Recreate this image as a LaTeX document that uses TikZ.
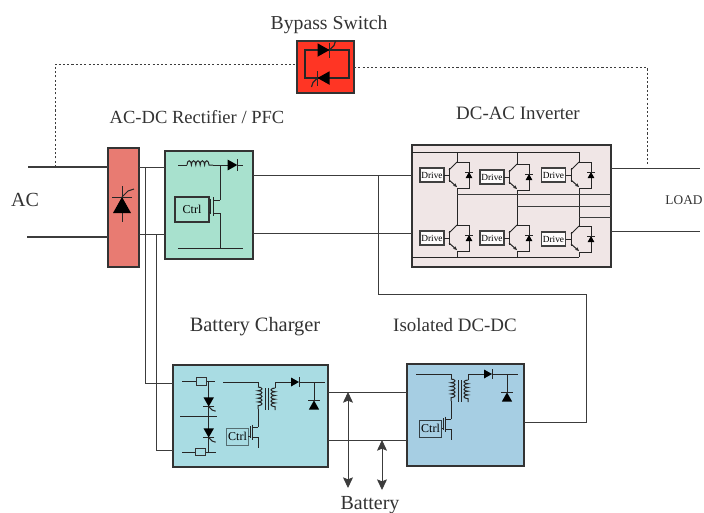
\documentclass[tikz,border=0pt]{standalone}
\usepackage{fontspec}
\setmainfont{Liberation Serif}
\usetikzlibrary{arrows.meta, decorations.pathmorphing}
\definecolor{bypassred}{HTML}{FF3524}
\definecolor{rectred}{HTML}{E87B72}
\definecolor{pfcgreen}{HTML}{A8E1CE}
\definecolor{invpink}{HTML}{F0E6E6}
\definecolor{chgblue}{HTML}{A9DCE3}
\definecolor{isoblue}{HTML}{A6CEE3}
\definecolor{wirecol}{HTML}{3C3C3C}
\tikzset{
  dio/.pic={
    \fill (-4,-4.5) -- (4,0) -- (-4,4.5) -- cycle;
    \draw (4,-5) -- (4,5);
  },
  scr/.pic={
    \fill (-4,-4.5) -- (4,0) -- (-4,4.5) -- cycle;
    \draw (4,-5) -- (4,5);
    \draw (4,0) -- (7,-3) -- (8,-6);
  },
  igbt/.pic={
    \coordinate (-c) at (0,-13);
    \coordinate (-e) at (0,13);
    \coordinate (-g) at (-8,0);
    \draw (-8,-7) -- (-8,7);
    \draw (-c) -- (-8,-5);
    \draw[-{Stealth[length=3pt,width=2.5pt]}] (-8,5) -- (0,12);
    \draw (-c) -- (12,-13) -- (12,13) -- (-e);
    \pic[rotate=90,scale=0.75] at (12,0) {dio};
  },
  mosfet/.pic={
    \coordinate (-g) at (-10,12);
    \draw (0,0) -- (-7,0);
    \draw (-7,-3) -- (-7,16);
    \draw (-10,-1) -- (-10,14);
    \draw (-7,13) -- (0,13);
  },
  flyback/.pic={
    \draw (-35,0) -- (0,0) -- (0,5);
    \draw[coilr] (0,5) -- (0,27);
    \draw (0,27) -- (0,45);
    \pic[scale=0.8] (-m) at (0,45) {mosfet};
    \draw (0,55.4) -- (0,66);
    \draw (7.5,6) -- (7.5,28) (10,6) -- (10,28);
    \draw (17,6) -- (17,0) -- (33,0);
    \draw[coill] (17,6) -- (17,28);
    \pic at (37,0) {dio};
    \draw (41,0) -- (67,0);
    \draw (56,0) -- (56,18);
    \pic[rotate=90,scale=1.15] at (56,23) {dio};
  },
  coilr/.style={decorate, decoration={bumps, segment length=5.6pt, amplitude=3pt}},
  coill/.style={decorate, decoration={bumps, segment length=5.6pt, amplitude=3pt, mirror}}
}

\begin{document}
\begin{tikzpicture}[
      x=0.75pt, y=-0.75pt, >=Stealth,
      wire/.style={draw=wirecol, line width=0.65pt},
      sym/.style={line width=0.75pt, draw=black!85},
      blockbox/.style={draw=black!80, line width=1.2pt, inner sep=0pt, outer sep=0pt},
      title/.style={text=black!80, inner sep=0pt, font=\fontsize{14.2}{16}\selectfont},
      drivebox/.style={draw=black!75, line width=0.9pt, fill=white!90!invpink, inner sep=0pt, outer sep=0pt,
        minimum width=18pt, minimum height=10.5pt, font=\fontsize{7}{8}\selectfont},
      ctrlbox/.style={inner sep=0pt, outer sep=0pt, font=\fontsize{9}{10}\selectfont},
      fusebox/.style={draw=black!80, line width=0.6pt, fill=chgblue, inner sep=0pt, minimum width=8pt, minimum height=5.5pt},
      batarrow/.style={wire, {Stealth[length=8pt,width=7.5pt,inset=1.5pt]}-{Stealth[length=8pt,width=7.5pt,inset=1.5pt]}}
    ]
      \useasboundingbox (0,0) rectangle (704,512);

      % free ends
      \coordinate (acT) at (28,167);
      \coordinate (acB) at (27,237);
      \coordinate (loadT) at (700,168);
      \coordinate (loadB) at (700,231);
      \coordinate (dotL) at (55,167);
      \coordinate (dotR) at (647,166);
      \coordinate (tapA) at (145,167);
      \coordinate (tapB) at (156,234);
      \coordinate (dcT) at (378,175);
      \coordinate (dcB) at (378,233);
      \coordinate (batT) at (348,392);
      \coordinate (batB) at (382,440);
      \coordinate (batTe) at (348,488);
      \coordinate (batBe) at (382,490);
      \coordinate (railT) at (579,152);
      \coordinate (railB) at (579,257);

      % blocks
      \node[blockbox, fill=bypassred, minimum width=42.75pt, minimum height=39pt] (byp) at (325.5,67) {};
      \node[blockbox, fill=rectred, minimum width=23.25pt, minimum height=89.25pt] (rec) at (123.5,207.5) {};
      \node[blockbox, fill=pfcgreen, minimum width=66pt, minimum height=81pt] (pfc) at (209,205) {};
      \node[blockbox, fill=invpink, minimum width=149.25pt, minimum height=91.5pt] (inv) at (511.5,206) {};
      \node[blockbox, fill=chgblue, minimum width=116.25pt, minimum height=76.5pt] (chg) at (250.5,416) {};
      \node[blockbox, fill=isoblue, minimum width=87.75pt, minimum height=76.5pt] (iso) at (465.5,415) {};

      % labels
      \node[title, font=\fontsize{14.8}{16}\selectfont] (lbyp) at (329,25) {Bypass Switch};
      \node[title, font=\fontsize{13.9}{16}\selectfont] (lrec) at (197,117) {AC-DC Rectifier / PFC};
      \node[title] (linv) at (518,113) {DC-AC Inverter};
      \node[title, font=\fontsize{15}{18}\selectfont] (lac) at (25,200) {AC};
      \node[title, font=\fontsize{10}{12}\selectfont] (lload) at (684,200) {LOAD};
      \node[title, font=\fontsize{15.3}{18}\selectfont] (lchg) at (255,327) {Battery Charger};
      \node[title] (liso) at (455,325) {Isolated DC-DC};
      \node[title, font=\fontsize{15}{18}\selectfont] (lbat) at (370,505) {Battery};

      % input side
      \draw[wire, line width=0.9pt] (acT) -- (acT -| rec.west);
      \draw[wire, line width=0.9pt] (acB) -- (acB -| rec.west);
      \draw[wire] (acT -| rec.east) -- (acT -| pfc.west);
      \draw[wire] (tapB -| rec.east) -- (tapB -| pfc.west);
      \draw[wire] (tapA) |- (chg.west |- 0,383);
      \draw[wire] (tapB) |- (chg.west |- 0,450);
      \draw[wire, dash pattern=on 1.6pt off 1.6pt] (dotL) |- (byp.west |- 0,64);
      \draw[wire, dash pattern=on 1.6pt off 1.6pt] (byp.east |- 0,67) -| (dotR);

      % dc bus
      \draw[wire] (pfc.east |- dcT) -- (inv.west |- dcT);
      \draw[wire] (pfc.east |- dcB) -- (inv.west |- dcB);
      \draw[wire] (dcT) |- (586,294) |- (iso.east |- 0,422);
      \draw[wire] (chg.east |- batT) -- (iso.west |- batT);
      \draw[wire] (chg.east |- batB) -- (iso.west |- batB);
      \draw[wire] (loadT -| inv.east) -- (loadT);
      \draw[wire] (loadB -| inv.east) -- (loadB);

      % battery
      \draw[batarrow] (batT) -- (batTe);
      \draw[batarrow] (batB) -- (batBe);

      % bypass switch
      \begin{scope}[sym, line width=0.9pt]
        \draw (305,50) rectangle (349,78);
        \pic[scale=1.5] at (323.5,50) {scr};
        \pic[rotate=180,scale=1.5] at (323.5,78) {scr};
      \end{scope}

      % rectifier
      \begin{scope}[sym]
        \draw (122,186) -- (122,222);
        \pic[rotate=90,yscale=-1,scale=2] at (122,205) {scr};
      \end{scope}

      % pfc
      \begin{scope}[sym]
        \draw (178,165) -- (187,165);
        \draw[decorate, decoration={bumps, segment length=6.6pt, amplitude=3.2pt}] (187,165) -- (213,165);
        \draw (213,165) -- (228,165);
        \pic[scale=1.2] at (232.5,165) {dio};
        \draw (237,165) -- (243,165);
        \draw (220,165) -- (220,200);
        \pic (m1) at (220,200) {mosfet};
        \draw (220,213) -- (220,248);
        \draw (178,248) -- (243,248);
      \end{scope}
      \node[ctrlbox, draw=black!80, line width=1pt, fill=pfcgreen, minimum width=25.5pt, minimum height=18.75pt] (ctrlA) at (192,209.5) {Ctrl};
      \draw[sym] (ctrlA.east |- m1-g) -- (m1-g);

      % inverter
      \begin{scope}[sym]
        \pic (q1) at (457,175) {igbt};
        \pic (q2) at (517,177) {igbt};
        \pic (q3) at (579,175) {igbt};
        \pic (q4) at (457,238) {igbt};
        \pic (q5) at (517,238) {igbt};
        \pic (q6) at (579,239) {igbt};
      \end{scope}
      \node[drivebox] (d1) at (432,175) {Drive};
      \node[drivebox] (d2) at (492,177) {Drive};
      \node[drivebox] (d3) at (553.5,175) {Drive};
      \node[drivebox] (d4) at (432,238) {Drive};
      \node[drivebox] (d5) at (492,238) {Drive};
      \node[drivebox] (d6) at (553.5,239) {Drive};
      \draw[sym] (d1.east) -- (q1-g);
      \draw[sym] (d2.east) -- (q2-g);
      \draw[sym] (d3.east) -- (q3-g);
      \draw[sym] (d4.east) -- (q4-g);
      \draw[sym] (d5.east) -- (q5-g);
      \draw[sym] (d6.east) -- (q6-g);
      \draw[sym] (railT -| inv.west) -- (railT);
      \draw[sym] (railB -| inv.west) -- (railB);
      \draw[sym] (railT -| q1-c) -- (q1-c);
      \draw[sym] (railT -| q2-c) -- (q2-c);
      \draw[sym] (railT) -- (q3-c);
      \draw[sym] (q1-e) -- (q4-c);
      \draw[sym] (q2-e) -- (q5-c);
      \draw[sym] (q3-e) -- (q6-c);
      \draw[sym] (q4-e) -- (railB -| q4-e);
      \draw[sym] (q5-e) -- (railB -| q5-e);
      \draw[sym] (q6-e) -- (railB);
      \draw[wire] (457,194) -- (inv.east |- 0,194);
      \draw[wire] (517,206) -- (inv.east |- 0,206);
      \draw[wire] (579,217) -- (inv.east |- 0,217);

      % battery charger
      \begin{scope}[sym]
        \pic (fa) at (258,382) {flyback};
        \draw (182,381) -- (215,381);
        \draw (180,416) -- (217,416);
        \draw (182,452) -- (216,452);
        \draw (208.7,381) -- (208.7,452);
        \pic[rotate=-90,scale=1.15] at (208.7,402) {scr};
        \pic[rotate=-90,scale=1.15] at (208.7,433) {scr};
      \end{scope}
      \node[fusebox] (f1) at (201.5,381.5) {};
      \node[fusebox] (f2) at (200.5,452) {};
      \node[ctrlbox, draw=black!50!chgblue, line width=0.6pt, fill=chgblue, minimum width=16pt, minimum height=12.75pt] (ctrlB) at (237.5,436.5) {Ctrl};
      \draw[sym] (ctrlB.east |- fa-m-g) -- (fa-m-g);

      % isolated dc-dc
      \begin{scope}[sym]
        \pic (fb) at (451,374) {flyback};
      \end{scope}
      \node[ctrlbox, draw=black!70!isoblue, line width=0.6pt, fill=isoblue, minimum width=17pt, minimum height=12.75pt] (ctrlC) at (430.5,428.5) {Ctrl};
      \draw[sym] (ctrlC.east |- fb-m-g) -- (fb-m-g);
    \end{tikzpicture}
\end{document}
